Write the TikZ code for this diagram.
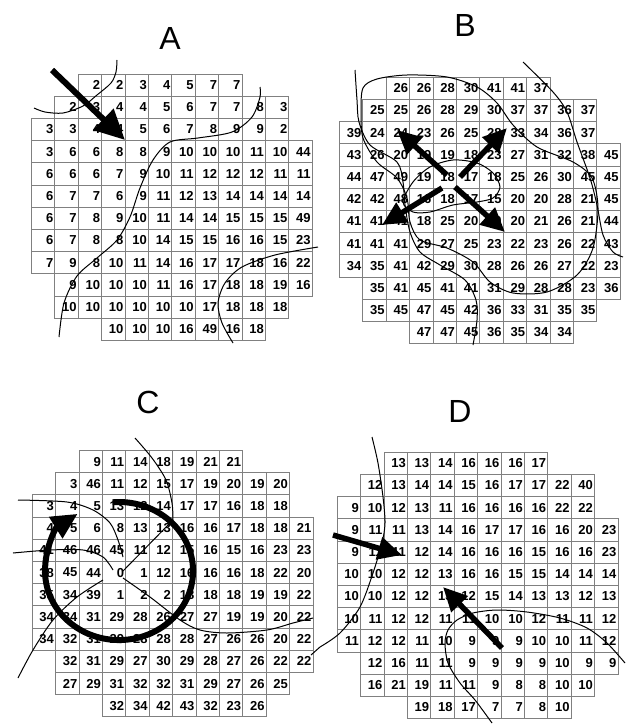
\documentclass[tikz,border=0pt]{standalone}
\usepackage{fontspec}
\setmainfont{Liberation Sans}
\newfontfamily\gridfont{Liberation Sans}
\usetikzlibrary{arrows.meta}

\tikzset{
  cell/.style={draw=gray, line width=0.9pt, anchor=north west,
    minimum width=23.4pt, minimum height=22.2pt, inner xsep=1.6pt, inner ysep=0pt,
    text width=20.2pt, align=right, font=\gridfont\bfseries\fontsize{13}{13}\selectfont},
  isoline/.style={line width=1pt},
  bigarrow/.style={line width=6pt, -{Triangle[length=30pt,width=28pt]}},
  midarrow/.style={line width=5.5pt, -{Triangle[length=24pt,width=22pt]}},
  paneltitle/.style={font=\fontsize{32}{32}\selectfont}
}

% one panel: name, left x, top y, rows as row/first column/{values}
\newcommand{\numgrid}[4]{%
  \foreach \r/\s/\vals in {#4}{
    \foreach \v [count=\c from \s] in \vals
      \node[cell] (#1-\r-\c) at ({#2+23.4*\c},{#3+22.2*(\r-1)}) {\v};
  }%
}

\begin{document}
\begin{tikzpicture}[x=1pt,y=-1pt]
  \useasboundingbox (0,0) rectangle (626,725);

  % titles
  \node[paneltitle] (titleA) at (170,38) {A};
  \node[paneltitle] (titleB) at (465,25) {B};
  \node[paneltitle] (titleC) at (148,402) {C};
  \node[paneltitle] (titleD) at (460,411) {D};

  % panel A
  \numgrid{A}{31}{73.5}{
    1/2/{2,2,3,4,5,7,7},
    2/1/{2,3,4,4,5,6,7,7,8,3},
    3/0/{3,3,4,4,5,6,7,8,9,9,2},
    4/0/{3,6,6,8,8,9,10,10,10,11,10,44},
    5/0/{6,6,6,7,9,10,11,12,12,12,11,11},
    6/0/{6,7,7,6,9,11,12,13,14,14,14,14},
    7/0/{6,7,8,9,10,11,14,14,15,15,15,49},
    8/0/{6,7,8,8,10,14,15,15,16,16,15,23},
    9/0/{7,9,8,10,11,14,16,17,17,18,16,22},
    10/1/{9,10,10,10,11,16,17,18,18,19,16},
    11/1/{10,10,10,10,10,10,17,18,18,18},
    12/3/{10,10,10,16,49,16,18}}
  \draw[isoline] plot[smooth] coordinates {(117,60) (116,72) (111,83) (97,95) (83,106) (63,113) (45,112) (34,108)};
  \draw[isoline] plot[smooth] coordinates {(59,337) (64,303) (77,276) (97,258) (117,240) (130,217) (140,188) (153,160) (170,142) (198,138) (232,132) (252,117) (260,97) (260,87)};
  \draw[isoline] plot[smooth] coordinates {(318,247) (275,255) (242,267) (225,283) (218,303) (222,323) (233,343)};
  \draw[bigarrow] (52,70) -- (125,140);

  % panel B
  \numgrid{B}{339}{76.7}{
    1/2/{26,26,28,30,41,41,37},
    2/1/{25,25,26,28,29,30,37,37,36,37},
    3/0/{39,24,24,23,26,25,28,33,34,36,37},
    4/0/{43,26,20,19,19,18,23,27,31,32,38,45},
    5/0/{44,47,49,19,18,17,18,25,26,30,45,45},
    6/0/{42,42,48,16,18,17,15,20,20,28,21,45},
    7/0/{41,41,41,18,25,20,20,20,21,26,21,44},
    8/0/{41,41,41,29,27,25,23,22,23,26,22,43},
    9/0/{34,35,41,42,29,30,28,26,26,27,22,23},
    10/1/{35,41,45,41,41,31,29,28,28,23,36},
    11/1/{35,45,47,45,42,36,33,31,35,35},
    12/3/{47,47,45,36,35,34,34}}
  \draw[isoline] plot[smooth] coordinates {(355,70) (357,100) (359,122) (370,145) (397,162) (403,182) (405,205) (410,232) (420,252) (440,265) (465,280) (476,300) (477,320) (473,345)};
  \draw[isoline] plot[smooth cycle] coordinates {(363,88) (377,79) (407,75) (447,77) (477,87) (497,103) (513,125) (537,147) (573,162) (592,178) (598,208) (593,248) (577,275) (547,292) (513,293) (490,282) (473,262) (447,248) (420,240) (410,222) (407,198) (397,178) (377,162) (363,138) (361,112)};
  \draw[isoline] plot[smooth cycle] coordinates {(403,202) (413,182) (430,167) (453,160) (477,163) (493,173) (500,187) (493,198) (477,202) (453,205) (430,212) (413,212)};
  \draw[isoline] plot[smooth] coordinates {(523,62) (553,92) (567,112) (577,142) (590,178) (597,205) (603,235) (613,252) (623,257)};
  \draw[midarrow] (447,175) -- (397,130);
  \draw[midarrow] (460,177) -- (507,128);
  \draw[midarrow] (442,188) -- (382,225);
  \draw[midarrow] (455,187) -- (505,232);

  % panel C
  \numgrid{C}{31.7}{450}{
    1/2/{9,11,14,18,19,21,21},
    2/1/{3,46,11,12,15,17,19,20,19,20},
    3/0/{3,4,5,13,12,14,17,17,16,18,18},
    4/0/{4,5,6,8,13,13,16,16,17,18,18,21},
    5/0/{41,46,46,45,11,12,15,16,15,16,23,23},
    6/0/{38,45,44,0,1,12,16,16,16,18,22,20},
    7/0/{35,34,39,1,2,2,18,18,18,19,19,22},
    8/0/{34,34,31,29,28,26,27,27,19,19,20,22},
    9/0/{34,32,31,29,28,28,28,27,26,26,20,22},
    10/1/{32,31,29,27,30,29,28,27,26,22,22},
    11/1/{27,29,31,32,32,31,29,27,26,25},
    12/3/{32,34,42,43,32,23,26}}
  \draw[isoline] plot[smooth] coordinates {(135,438) (152,458) (166,480) (172,503) (173,520)} -- (123,571);
  \draw[isoline] plot[smooth] coordinates {(123,578) (150,597) (180,620) (200,630) (227,633) (267,630) (293,623) (313,618)};
  \draw[isoline] plot[smooth] coordinates {(18,500) (67,502) (93,510) (110,523) (118,540) (123,557)};
  \draw[isoline] plot[smooth] coordinates {(13,553) (50,550) (83,550) (103,557) (113,570)};
  \draw[isoline] plot[smooth] coordinates {(18,678) (33,650) (53,620) (77,597) (103,580)};
  \draw[isoline] (311,655) -- (320,647);
  \draw[line width=6pt, -{Triangle[length=26pt,width=24pt]}]
    (112.6,502.3) arc[start angle=-95, end angle=236, x radius=74, y radius=69];

  % panel D
  \numgrid{D}{336.7}{451.7}{
    1/2/{13,13,14,16,16,16,17},
    2/1/{12,13,14,14,15,16,17,17,22,40},
    3/0/{9,10,12,13,11,16,16,16,16,22,22},
    4/0/{9,11,11,13,14,16,17,17,16,16,20,23},
    5/0/{9,11,11,12,14,16,16,16,15,16,16,23},
    6/0/{10,10,12,12,13,16,16,15,15,14,14,14},
    7/0/{10,10,12,12,13,12,15,14,13,13,12,13},
    8/0/{10,11,12,12,11,11,10,10,12,11,11,12},
    9/0/{11,12,12,11,10,9,9,9,10,10,11,12},
    10/1/{12,16,11,11,9,9,9,9,10,9,9},
    11/1/{16,21,19,11,11,9,8,8,10,10},
    12/3/{19,18,17,7,7,8,10}}
  \draw[isoline] plot[smooth] coordinates {(372,437) (378,463) (383,497) (385,523) (382,543) (373,573) (360,607) (340,633) (320,647)};
  \draw[isoline] plot[smooth] coordinates {(492,723) (475,700) (460,683) (448,663) (445,643) (448,630) (457,620) (473,613) (497,610) (527,612) (560,618) (587,628) (607,643) (625,663)};
  \draw[midarrow] (333,535) -- (402,555);
  \draw[midarrow] (502,648) -- (443,587);
\end{tikzpicture}
\end{document}
